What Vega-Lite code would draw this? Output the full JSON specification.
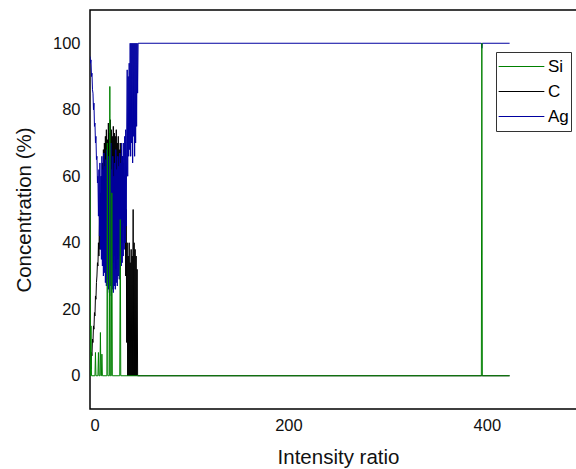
{
  "$schema": "https://vega.github.io/schema/vega-lite/v6.json",
  "width": 496,
  "height": 399,
  "autosize": "none",
  "padding": {"left": 90, "top": 10, "right": 0, "bottom": 60},
  "background": "white",
  "config": {
    "view": {"stroke": "black", "strokeWidth": 1.5},
    "axis": {
      "grid": false, "ticks": false, "domain": false,
      "labelFont": "Liberation Sans", "labelFontSize": 16.5, "labelColor": "#111",
      "titleFont": "Liberation Sans", "titleFontSize": 20.5, "titleFontWeight": "normal", "titleColor": "#111"
    },
    "legend": {
      "orient": "none", "legendX": 406, "legendY": 42,
      "symbolType": "stroke", "symbolSize": 2090, "symbolStrokeWidth": 1,
      "clipHeight": 25, "rowPadding": 0, "padding": 2,
      "strokeColor": "#333", "fillColor": "white",
      "labelFont": "Liberation Sans", "labelFontSize": 17, "labelColor": "black", "labelOffset": 3
    }
  },
  "data": {"values": [
    {"s":"Ag","x":0,"y":96},{"s":"Ag","x":0.5,"y":94},{"s":"Ag","x":1,"y":95},{"s":"Ag","x":1.5,"y":90},{"s":"Ag","x":2,"y":91},{"s":"Ag","x":2.5,"y":86},{"s":"Ag","x":3,"y":85},{"s":"Ag","x":3.5,"y":80},{"s":"Ag","x":4,"y":82},{"s":"Ag","x":4.5,"y":75},{"s":"Ag","x":5,"y":76},{"s":"Ag","x":5.5,"y":70},{"s":"Ag","x":6,"y":72},{"s":"Ag","x":6.5,"y":65},{"s":"Ag","x":7,"y":66},{"s":"Ag","x":7.5,"y":58},{"s":"Ag","x":8,"y":60},{"s":"Ag","x":8.5,"y":48},{"s":"Ag","x":9,"y":62},{"s":"Ag","x":9.5,"y":42},{"s":"Ag","x":10,"y":64},{"s":"Ag","x":10.5,"y":38},{"s":"Ag","x":11,"y":60},{"s":"Ag","x":11.5,"y":35},{"s":"Ag","x":12,"y":66},{"s":"Ag","x":12.5,"y":33},{"s":"Ag","x":13,"y":62},{"s":"Ag","x":13.5,"y":30},{"s":"Ag","x":14,"y":67},{"s":"Ag","x":14.5,"y":31},{"s":"Ag","x":15,"y":63},{"s":"Ag","x":15.5,"y":28},{"s":"Ag","x":16,"y":65},{"s":"Ag","x":16.5,"y":27},{"s":"Ag","x":17,"y":68},{"s":"Ag","x":17.5,"y":29},{"s":"Ag","x":18,"y":62},{"s":"Ag","x":18.5,"y":26},{"s":"Ag","x":19,"y":66},{"s":"Ag","x":19.5,"y":25},{"s":"Ag","x":20,"y":64},{"s":"Ag","x":20.5,"y":27},{"s":"Ag","x":21,"y":70},{"s":"Ag","x":21.5,"y":24},{"s":"Ag","x":22,"y":62},{"s":"Ag","x":22.5,"y":26},{"s":"Ag","x":23,"y":66},{"s":"Ag","x":23.5,"y":25},{"s":"Ag","x":24,"y":60},{"s":"Ag","x":24.5,"y":27},{"s":"Ag","x":25,"y":64},{"s":"Ag","x":25.5,"y":26},{"s":"Ag","x":26,"y":68},{"s":"Ag","x":26.5,"y":28},{"s":"Ag","x":27,"y":62},{"s":"Ag","x":27.5,"y":27},{"s":"Ag","x":28,"y":66},{"s":"Ag","x":28.5,"y":30},{"s":"Ag","x":29,"y":63},{"s":"Ag","x":29.5,"y":29},{"s":"Ag","x":30,"y":67},{"s":"Ag","x":30.5,"y":32},{"s":"Ag","x":31,"y":64},{"s":"Ag","x":31.5,"y":33},{"s":"Ag","x":32,"y":70},{"s":"Ag","x":32.5,"y":34},{"s":"Ag","x":33,"y":66},{"s":"Ag","x":33.5,"y":36},{"s":"Ag","x":34,"y":70},{"s":"Ag","x":34.5,"y":38},{"s":"Ag","x":35,"y":72},{"s":"Ag","x":35.5,"y":40},{"s":"Ag","x":36,"y":74},{"s":"Ag","x":36.5,"y":45},{"s":"Ag","x":37,"y":73},{"s":"Ag","x":37.5,"y":92},{"s":"Ag","x":38,"y":60},{"s":"Ag","x":38.5,"y":90},{"s":"Ag","x":39,"y":66},{"s":"Ag","x":39.5,"y":94},{"s":"Ag","x":40,"y":68},{"s":"Ag","x":40.5,"y":100},{"s":"Ag","x":41,"y":66},{"s":"Ag","x":41.5,"y":100},{"s":"Ag","x":42,"y":70},{"s":"Ag","x":42.5,"y":100},{"s":"Ag","x":43,"y":64},{"s":"Ag","x":43.5,"y":100},{"s":"Ag","x":44,"y":72},{"s":"Ag","x":44.5,"y":100},{"s":"Ag","x":45,"y":66},{"s":"Ag","x":45.5,"y":100},{"s":"Ag","x":46,"y":70},{"s":"Ag","x":46.5,"y":100},{"s":"Ag","x":47,"y":75},{"s":"Ag","x":47.5,"y":100},{"s":"Ag","x":48,"y":85},{"s":"Ag","x":48.5,"y":100},{"s":"Ag","x":394.5,"y":100},{"s":"Ag","x":395,"y":98.5},{"s":"Ag","x":395.5,"y":100},{"s":"Ag","x":423,"y":100},

    {"s":"C","x":0,"y":0},{"s":"C","x":0.5,"y":3},{"s":"C","x":1,"y":2},{"s":"C","x":1.5,"y":7},{"s":"C","x":2,"y":6},{"s":"C","x":2.5,"y":11},{"s":"C","x":3,"y":10},{"s":"C","x":3.5,"y":15},{"s":"C","x":4,"y":14},{"s":"C","x":4.5,"y":19},{"s":"C","x":5,"y":18},{"s":"C","x":5.5,"y":24},{"s":"C","x":6,"y":23},{"s":"C","x":6.5,"y":28},{"s":"C","x":7,"y":30},{"s":"C","x":7.5,"y":34},{"s":"C","x":8,"y":33},{"s":"C","x":8.5,"y":40},{"s":"C","x":9,"y":36},{"s":"C","x":9.5,"y":48},{"s":"C","x":10,"y":38},{"s":"C","x":10.5,"y":55},{"s":"C","x":11,"y":40},{"s":"C","x":11.5,"y":60},{"s":"C","x":12,"y":36},{"s":"C","x":12.5,"y":64},{"s":"C","x":13,"y":40},{"s":"C","x":13.5,"y":68},{"s":"C","x":14,"y":35},{"s":"C","x":14.5,"y":70},{"s":"C","x":15,"y":38},{"s":"C","x":15.5,"y":72},{"s":"C","x":16,"y":35},{"s":"C","x":16.5,"y":74},{"s":"C","x":17,"y":32},{"s":"C","x":17.5,"y":71},{"s":"C","x":18,"y":38},{"s":"C","x":18.5,"y":76},{"s":"C","x":19,"y":34},{"s":"C","x":19.5,"y":73},{"s":"C","x":20,"y":36},{"s":"C","x":20.5,"y":77},{"s":"C","x":21,"y":30},{"s":"C","x":21.5,"y":74},{"s":"C","x":22,"y":38},{"s":"C","x":22.5,"y":72},{"s":"C","x":23,"y":34},{"s":"C","x":23.5,"y":75},{"s":"C","x":24,"y":40},{"s":"C","x":24.5,"y":73},{"s":"C","x":25,"y":36},{"s":"C","x":25.5,"y":72},{"s":"C","x":26,"y":32},{"s":"C","x":26.5,"y":74},{"s":"C","x":27,"y":38},{"s":"C","x":27.5,"y":70},{"s":"C","x":28,"y":35},{"s":"C","x":28.5,"y":72},{"s":"C","x":29,"y":40},{"s":"C","x":29.5,"y":68},{"s":"C","x":30,"y":36},{"s":"C","x":30.5,"y":70},{"s":"C","x":31,"y":38},{"s":"C","x":31.5,"y":68},{"s":"C","x":32,"y":40},{"s":"C","x":32.5,"y":66},{"s":"C","x":33,"y":44},{"s":"C","x":33.5,"y":64},{"s":"C","x":34,"y":46},{"s":"C","x":34.5,"y":60},{"s":"C","x":35,"y":40},{"s":"C","x":35.5,"y":56},{"s":"C","x":36,"y":30},{"s":"C","x":36.5,"y":50},{"s":"C","x":37,"y":10},{"s":"C","x":37.5,"y":40},{"s":"C","x":38,"y":0},{"s":"C","x":38.5,"y":36},{"s":"C","x":39,"y":0},{"s":"C","x":39.5,"y":40},{"s":"C","x":40,"y":0},{"s":"C","x":40.5,"y":34},{"s":"C","x":41,"y":0},{"s":"C","x":41.5,"y":38},{"s":"C","x":42,"y":0},{"s":"C","x":42.5,"y":36},{"s":"C","x":43,"y":0},{"s":"C","x":43.5,"y":50},{"s":"C","x":44,"y":0},{"s":"C","x":44.5,"y":40},{"s":"C","x":45,"y":0},{"s":"C","x":45.5,"y":38},{"s":"C","x":46,"y":0},{"s":"C","x":46.5,"y":36},{"s":"C","x":47,"y":0},{"s":"C","x":47.5,"y":32},{"s":"C","x":48,"y":0},{"s":"C","x":423,"y":0},

    {"s":"Si","x":0,"y":66},{"s":"Si","x":0.5,"y":0},{"s":"Si","x":1,"y":15},{"s":"Si","x":1.5,"y":0},{"s":"Si","x":5,"y":0},{"s":"Si","x":5.5,"y":7},{"s":"Si","x":6,"y":0},{"s":"Si","x":8,"y":0},{"s":"Si","x":8.5,"y":7},{"s":"Si","x":9,"y":0},{"s":"Si","x":10,"y":0},{"s":"Si","x":10.5,"y":13},{"s":"Si","x":11,"y":0},{"s":"Si","x":11.5,"y":0},{"s":"Si","x":12,"y":6.5},{"s":"Si","x":12.5,"y":0},{"s":"Si","x":17,"y":0},{"s":"Si","x":17.5,"y":70},{"s":"Si","x":18,"y":0},{"s":"Si","x":19.5,"y":0},{"s":"Si","x":20,"y":87},{"s":"Si","x":20.5,"y":0},{"s":"Si","x":21.5,"y":0},{"s":"Si","x":22,"y":55},{"s":"Si","x":22.5,"y":0},{"s":"Si","x":30,"y":0},{"s":"Si","x":30.5,"y":47},{"s":"Si","x":31,"y":0},{"s":"Si","x":394.5,"y":0},{"s":"Si","x":395,"y":100},{"s":"Si","x":395.5,"y":0},{"s":"Si","x":423,"y":0}
  ]},
  "encoding": {
    "x": {"field": "x", "type": "quantitative", "scale": {"domain": [0, 500], "nice": false},
          "axis": {"values": [0, 200, 400], "title": "Intensity ratio", "labelPadding": 8, "titlePadding": 14}},
    "y": {"field": "y", "type": "quantitative", "scale": {"domain": [-10, 110], "nice": false, "zero": false},
          "axis": {"values": [0, 20, 40, 60, 80, 100], "title": "Concentration (%)", "labelPadding": 10, "titlePadding": 18}},
    "color": {"field": "s", "type": "nominal",
              "scale": {"domain": ["Si", "C", "Ag"], "range": ["#008000", "#000000", "#0000A0"]},
              "legend": {"title": null}}
  },
  "layer": [
    {"transform": [{"filter": "datum.s === 'C'"}], "mark": {"type": "line", "strokeWidth": 1, "clip": true}},
    {"transform": [{"filter": "datum.s === 'Ag'"}], "mark": {"type": "line", "strokeWidth": 1, "clip": true}},
    {"transform": [{"filter": "datum.s === 'Si'"}], "mark": {"type": "line", "strokeWidth": 1, "clip": true}}
  ]
}
